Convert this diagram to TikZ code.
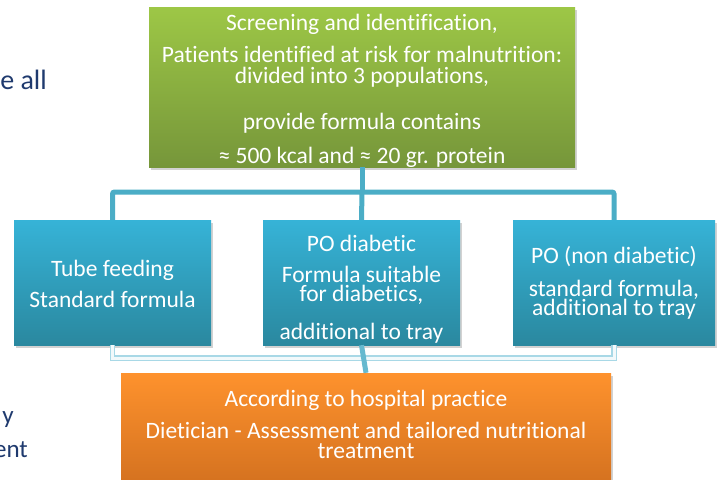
\documentclass[tikz,border=0pt]{standalone}
\usepackage{fontspec}
\setmainfont{Carlito}[Ligatures={NoCommon}]
\usetikzlibrary{shadows}
\definecolor{gtop}{HTML}{9DC746}
\definecolor{gbot}{HTML}{76963A}
\definecolor{btop}{HTML}{36B3D7}
\definecolor{bbot}{HTML}{2A889F}
\definecolor{otop}{HTML}{FE922D}
\definecolor{obot}{HTML}{D2701F}
\definecolor{conn}{HTML}{4BADC6}
\definecolor{lconn}{HTML}{A8D8E6}
\definecolor{navy}{HTML}{1F3A6E}
\tikzset{
  box/.style={rectangle, inner sep=0pt, draw=none,
    drop shadow={opacity=0.35, shadow xshift=2pt, shadow yshift=-3pt}},
  greenbox/.style={box, top color=gtop, bottom color=gbot},
  bluebox/.style={box, top color=btop, bottom color=bbot},
  orangebox/.style={box, top color=otop, bottom color=obot},
  txt/.style={text=white, inner sep=0pt, anchor=base, font=\fontsize{23.5}{24}\selectfont},
  side/.style={text=navy, inner sep=0pt, anchor=base east, font=\fontsize{25}{25}\selectfont},
  topconn/.style={draw=conn, line width=5pt, rounded corners=2pt},
  lowconn/.style={draw=lconn, line width=1.2pt, double=white!85!lconn, double distance=3pt},
  midconn/.style={draw=conn!85!white, line width=5pt}
}
\begin{document}
\begin{tikzpicture}[x=1pt,y=-1pt]
\useasboundingbox[fill=white] (0,0) rectangle (717,479);
% side fragments
\node[side, font=\fontsize{28}{28}\selectfont] (s1) at (47,89) {e all};
\node[side] (s2) at (14,423) {y};
\node[side] (s3) at (28,457) {ent};
\coordinate (hub) at (362,192);
\coordinate (low) at (362,358);
% boxes
\node[greenbox, minimum width=426pt, minimum height=160pt] (green) at (362,87) {};
\node[bluebox, minimum width=197pt, minimum height=125pt] (tf) at (112.5,282.5) {};
\node[bluebox, minimum width=197pt, minimum height=125pt] (pod) at (361.5,282.5) {};
\node[bluebox, minimum width=202pt, minimum height=125pt] (pond) at (614,282.5) {};
% connectors
\draw[topconn] (green.south) -- (hub);
\draw[topconn] (tf.north) |- (hub) -| (pond.north);
\draw[topconn] (hub) -- (pod.north);
\draw[lowconn] (tf.south) |- (low) -| (pond.south);
\node[orangebox, minimum width=490pt, minimum height=116pt] (orange) at (366,431) {};
\draw[midconn] (pod.south) -- (orange.north);
% green texts
\node[txt] (g1) at (362,30) {Screening and identification,};
\node[txt] (g2) at (362,62) {Patients identified at risk for malnutrition:};
\node[txt] (g3) at (362,83) {divided into 3 populations,};
\node[txt] (g4) at (362,129) {provide formula contains};
\node[txt] (g5) at (362,163) {≈ 500 kcal and ≈ 20 gr. protein};
% blue texts
\node[txt] (t1) at (112.5,276) {Tube feeding};
\node[txt] (t2) at (112.5,307) {Standard formula};
\node[txt] (p1) at (361.5,251) {PO diabetic};
\node[txt] (p2) at (361.5,282) {Formula suitable};
\node[txt] (p3) at (361.5,301) {for diabetics,};
\node[txt] (p4) at (361.5,339) {additional to tray};
\node[txt] (n1) at (614,263) {PO (non diabetic)};
\node[txt] (n2) at (614,296) {standard formula,};
\node[txt] (n3) at (614,315) {additional to tray};
% orange texts
\node[txt] (o1) at (366,406) {According to hospital practice};
\node[txt] (o2) at (366,438) {Dietician - Assessment and tailored nutritional};
\node[txt] (o3) at (366,458) {treatment};
\end{tikzpicture}
\end{document}
